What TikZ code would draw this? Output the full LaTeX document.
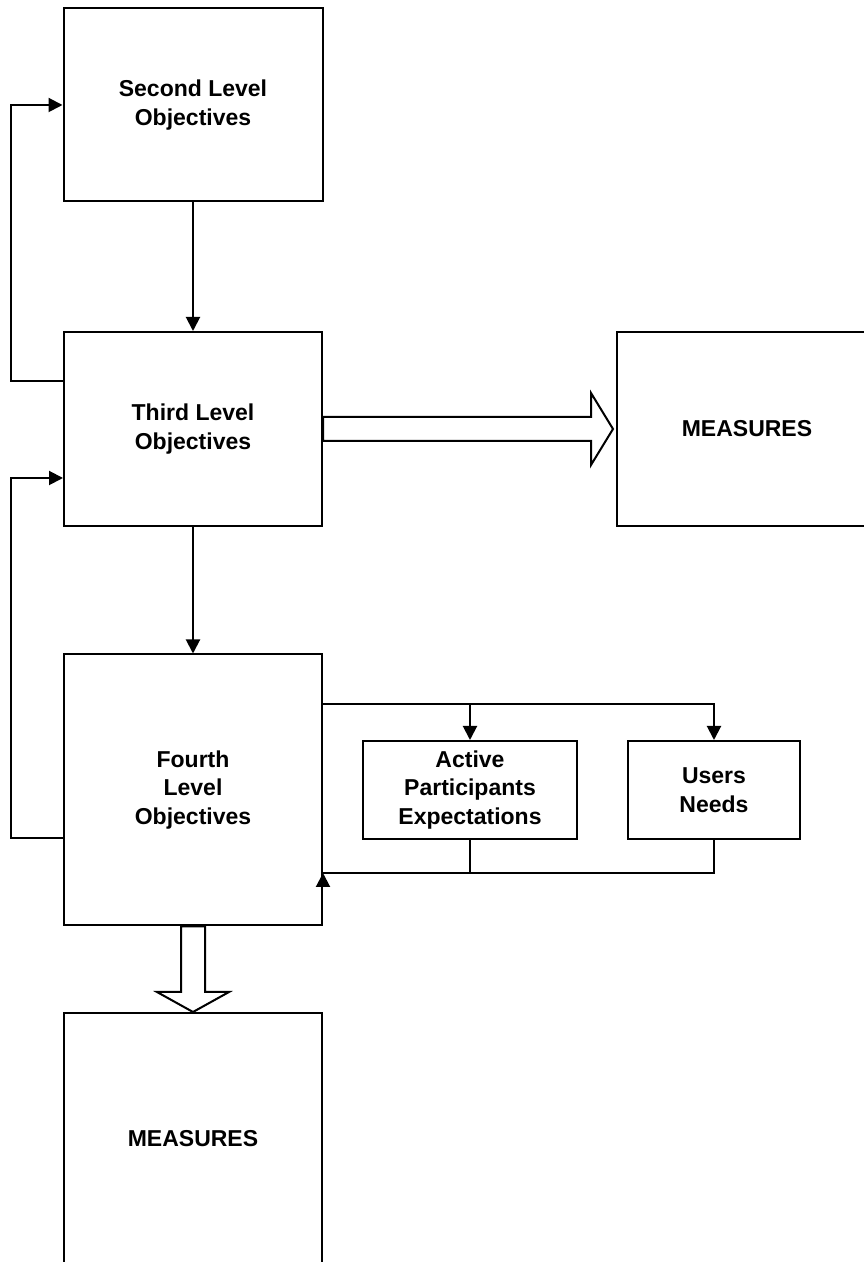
\documentclass[tikz,border=0pt]{standalone}
\usepackage{fontspec}
\setmainfont{Liberation Sans}
\usepackage{tikz}
\usetikzlibrary{positioning}
\usetikzlibrary{arrows.meta}

\begin{document}
\begin{tikzpicture}[
        x=1pt, y=1pt,
        every node/.style={font=\bfseries\fontsize{23}{28.5}\selectfont, align=center},
        box/.style={rectangle, draw=black, line width=2pt, inner sep=0pt},
        arrow/.style={-{Triangle[length=14pt,width=14pt]}, line width=2pt},
        link/.style={line width=2pt},
        hollow/.style={draw=black, fill=white, line width=2pt, line join=miter}
    ]
    \useasboundingbox (0,0) rectangle (864,1262);
    \clip (0,0) rectangle (864,1262);

    % Objectives
    \node[box, minimum width=259pt, minimum height=193pt] at (193,1157) (second) {Second Level\\Objectives};
    \node[box, minimum width=258pt, minimum height=194pt] at (193,833) (third) {Third Level\\Objectives};
    \node[box, minimum width=258pt, minimum height=271pt] at (193,472) (fourth) {Fourth\\Level\\Objectives};

    % Measures
    \node[box, minimum width=260pt, minimum height=194pt] at (747,833) (meas1) {MEASURES};
    \node[box, minimum width=258pt, minimum height=252pt] at (193,123) (meas2) {MEASURES};

    % Inputs to fourth level
    \node[box, minimum width=214pt, minimum height=98pt] at (470,472) (active) {Active\\Participants\\Expectations};
    \node[box, minimum width=172pt, minimum height=98pt] at (714,472) (users) {Users\\Needs};

    % Arrows down
    \draw[arrow] (second.south) -- (third.north);
    \draw[arrow] (third.south) -- (fourth.north);

    % Feedback arrows
    \draw[arrow] ([yshift=48pt]third.west) -- ++(-52,0) |- (second.west);
    \draw[arrow] ([yshift=-48pt]fourth.west) -- ++(-52,0) |- ([yshift=-49pt]third.west);

    % Split and merge
    \coordinate (split) at ([yshift=86pt]fourth.east);
    \coordinate (merge) at ([yshift=-83pt]fourth.east);
    \draw[arrow] (split) -| (users.north);
    \draw[arrow] (active.north |- split) -- (active.north);
    \draw[link] (users.south) |- (merge);
    \draw[link] (active.south) -- (active.south |- merge);
    \draw[arrow] ([yshift=-14pt]merge) -- (merge);

    % Hollow arrows to measures
    \draw[hollow] ([yshift=12pt]third.east) -- ([xshift=-25pt,yshift=12pt]meas1.west)
        -- ([xshift=-25pt,yshift=36pt]meas1.west) -- ([xshift=-3pt]meas1.west)
        -- ([xshift=-25pt,yshift=-36pt]meas1.west) -- ([xshift=-25pt,yshift=-12pt]meas1.west)
        -- ([yshift=-12pt]third.east) -- cycle;
    \draw[hollow] ([xshift=-12pt]fourth.south) -- ([xshift=-12pt,yshift=20pt]meas2.north)
        -- ([xshift=-36pt,yshift=20pt]meas2.north) -- (meas2.north)
        -- ([xshift=36pt,yshift=20pt]meas2.north) -- ([xshift=12pt,yshift=20pt]meas2.north)
        -- ([xshift=12pt]fourth.south) -- cycle;

\end{tikzpicture}
\end{document}
